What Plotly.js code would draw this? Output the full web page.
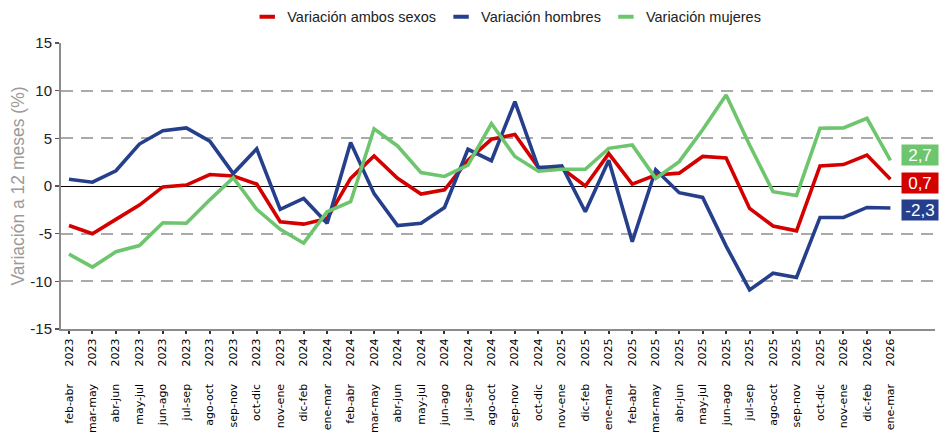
<!DOCTYPE html>
<html>
<head>
<meta charset="utf-8">
<script src="https://cdn.plot.ly/plotly-3.0.1.min.js"></script>
<style>html,body{margin:0;padding:0;background:#fff;}#chart{width:940px;height:445px;}</style>
</head>
<body>
<div id="chart"></div>
<script>
const periods = ["feb-abr","mar-may","abr-jun","may-jul","jun-ago","jul-sep","ago-oct","sep-nov","oct-dic","nov-ene","dic-feb","ene-mar",
  "feb-abr","mar-may","abr-jun","may-jul","jun-ago","jul-sep","ago-oct","sep-nov","oct-dic","nov-ene","dic-feb","ene-mar",
  "feb-abr","mar-may","abr-jun","may-jul","jun-ago","jul-sep","ago-oct","sep-nov","oct-dic","nov-ene","dic-feb","ene-mar"];
const years = ["2023","2023","2023","2023","2023","2023","2023","2023","2023","2023","2024","2024",
  "2024","2024","2024","2024","2024","2024","2024","2024","2024","2025","2025","2025",
  "2025","2025","2025","2025","2025","2025","2025","2025","2025","2026","2026","2026"];

const ambos = [-4.15,-5.0,-3.5,-2.0,-0.1,0.1,1.2,1.05,0.2,-3.75,-4.0,-3.4,
  0.8,3.15,0.8,-0.85,-0.4,2.7,4.9,5.4,1.95,1.85,0.0,3.4,
  0.2,1.15,1.35,3.1,2.95,-2.35,-4.2,-4.7,2.1,2.25,3.25,0.7];
const hombres = [0.7,0.4,1.6,4.4,5.8,6.1,4.7,1.3,3.9,-2.45,-1.3,-3.9,
  4.55,-0.8,-4.15,-3.9,-2.25,3.85,2.65,8.85,1.9,2.1,-2.7,2.7,
  -5.85,1.7,-0.7,-1.2,-6.3,-10.9,-9.15,-9.6,-3.3,-3.3,-2.25,-2.3];
const mujeres = [-7.15,-8.5,-6.9,-6.25,-3.85,-3.9,-1.45,0.87,-2.45,-4.55,-6.0,-2.7,
  -1.65,6.0,4.2,1.4,1.0,2.2,6.55,3.1,1.55,1.75,1.75,3.95,
  4.3,0.8,2.55,5.9,9.55,4.3,-0.6,-1.0,6.05,6.1,7.1,2.7];

const yTickVals = [-15,-10,-5,0,5,10,15];
const yTickText = ["-15","-10","-5","0","5","10","15"];

const names = ["Variación ambos sexos","Variación hombres","Variación mujeres"];
const colors = ["#d40000","#263f8c","#6dc56d"];
const series = [ambos, hombres, mujeres];
const labelShift = [-4, -2, 5];

const NB = "\u00a0";
const cats = periods.map((p,i) => p + NB.repeat(5) + years[i]);

const traces = [];
series.forEach((s,k) => {
  traces.push({x: cats, y: s, type: "scatter", mode: "lines", name: names[k],
    line: {color: colors[k], width: 3.6}, showlegend: false, hoverinfo: "skip"});
});
series.forEach((s,k) => {
  traces.push({x: [null], y: [null], type: "scatter", mode: "markers", name: names[k],
    marker: {symbol: "line-ew-open", size: 11, color: colors[k], line: {color: colors[k], width: 4}}, showlegend: true});
});

const annotations = series.map((s,k) => {
  const v = s[s.length-1];
  return {x: cats[cats.length-1], y: v, xref: "x", yref: "y", xshift: 30, yshift: labelShift[k],
    text: v.toFixed(1).replace(".", ","), showarrow: false, bgcolor: colors[k],
    font: {family: "Liberation Sans, Arial, sans-serif", size: 17, color: "#ffffff"},
    borderpad: 1, width: 34, height: 18, align: "center"};
});

const layout = {
  width: 940, height: 445,
  margin: {l: 61, r: 5, t: 43, b: 116},
  paper_bgcolor: "#ffffff", plot_bgcolor: "#ffffff",
  font: {family: "Liberation Sans, Arial, sans-serif", size: 14, color: "#222"},
  showlegend: true,
  legend: {orientation: "h", x: 0.51, xref: "paper", xanchor: "center", yref: "container", y: 0.962, yanchor: "middle",
    font: {size: 14.5, color: "#222"}, itemwidth: 30, traceorder: "normal"},
  xaxis: {type: "category", range: [-0.34, 36.9], tickangle: -90,
    tickfont: {family: "DejaVu Sans, sans-serif", size: 11, color: "#000"},
    ticks: "outside", ticklen: 3, tickwidth: 2, tickcolor: "#333",
    showline: true, linecolor: "#8c8c8c", linewidth: 2, showgrid: false, zeroline: false, fixedrange: true},
  yaxis: {range: [-15, 15], tickmode: "array", tickvals: yTickVals, ticktext: yTickText,
    tickfont: {size: 15, color: "#222"},
    ticks: "outside", ticklen: 4, tickwidth: 1.5, tickcolor: "#555",
    showline: true, linecolor: "#8c8c8c", linewidth: 2,
    showgrid: true, gridcolor: "#aaaaaa", gridwidth: 2, griddash: "12px,8px",
    zeroline: true, zerolinecolor: "#000000", zerolinewidth: 1,
    title: {text: "Variación a 12 meses (%)", font: {size: 17.5, color: "#9a9a9a"}, standoff: 1},
    fixedrange: true},
  annotations: annotations
};

Plotly.newPlot("chart", traces, layout, {displayModeBar: false, staticPlot: true});
</script>
</body>
</html>
